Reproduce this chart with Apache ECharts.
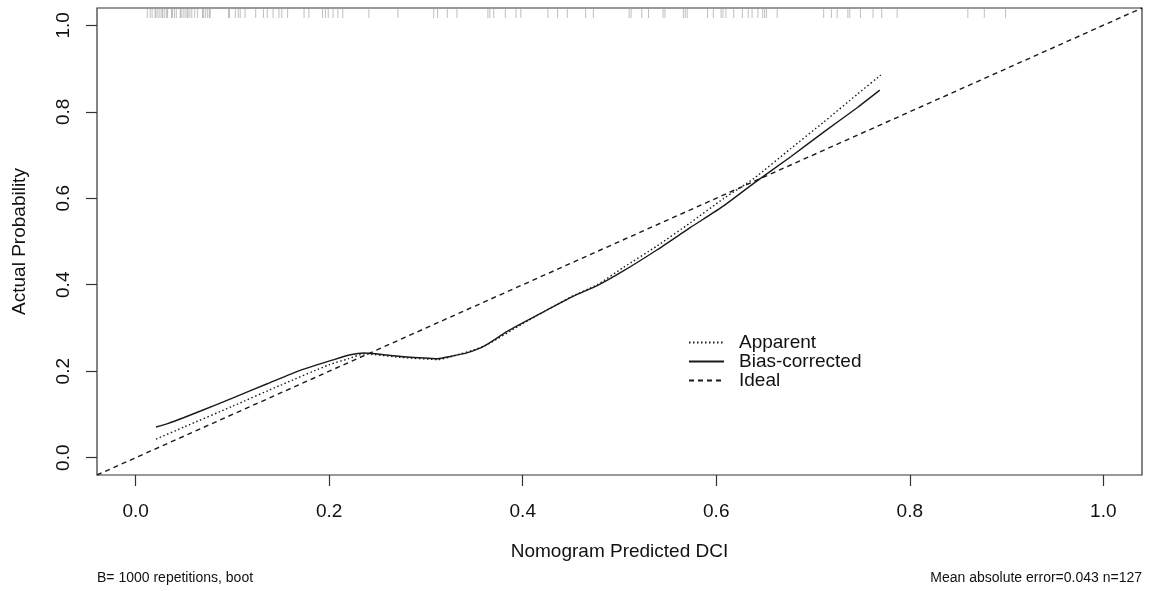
<!DOCTYPE html>
<html>
<head>
<meta charset="utf-8">
<script src="https://cdn.jsdelivr.net/npm/echarts@6/dist/echarts.min.js"></script>
<style>
html,body{margin:0;padding:0;background:#fff;}
#chart{width:1156px;height:591px;}
</style>
</head>
<body>
<div id="chart"></div>
<script>
// ---- data ----
var xTicks = [0, 0.2, 0.4, 0.6, 0.8, 1.0];
var yTicks = [0, 0.2, 0.4, 0.6, 0.8, 1.0];

var apparentX = [0.021, 0.05, 0.10, 0.15, 0.20, 0.22, 0.236, 0.274, 0.312, 0.325, 0.36, 0.40, 0.45, 0.477, 0.504, 0.539, 0.573, 0.608, 0.639, 0.677, 0.711, 0.746, 0.770];
var apparentY = [0.043, 0.071, 0.119, 0.168, 0.215, 0.229, 0.240, 0.232, 0.227, 0.233, 0.258, 0.310, 0.372, 0.400, 0.440, 0.490, 0.543, 0.600, 0.646, 0.715, 0.776, 0.841, 0.885];

var biasX = [0.021, 0.033, 0.05, 0.067, 0.10, 0.136, 0.17, 0.205, 0.222, 0.236, 0.274, 0.312, 0.325, 0.343, 0.36, 0.384, 0.418, 0.453, 0.477, 0.504, 0.539, 0.573, 0.608, 0.639, 0.677, 0.711, 0.746, 0.769];
var biasY = [0.071, 0.079, 0.093, 0.108, 0.138, 0.171, 0.202, 0.227, 0.238, 0.242, 0.234, 0.229, 0.234, 0.243, 0.258, 0.292, 0.333, 0.374, 0.398, 0.432, 0.481, 0.532, 0.583, 0.635, 0.696, 0.753, 0.810, 0.850];

var idealX = [-0.04, 1.04];
var idealY = [-0.04, 1.04];

var rugValues = [0.012, 0.015, 0.017, 0.020, 0.021, 0.023, 0.025, 0.027, 0.028, 0.030, 0.032, 0.033, 0.037, 0.038, 0.040, 0.042, 0.046, 0.047, 0.049, 0.051, 0.053, 0.054, 0.056, 0.058, 0.061, 0.064, 0.069, 0.070, 0.072, 0.074, 0.076, 0.077, 0.096, 0.097, 0.103, 0.106, 0.108, 0.113, 0.124,
  0.132, 0.136, 0.142, 0.148, 0.151, 0.157, 0.174, 0.179, 0.193, 0.196, 0.199, 0.204, 0.209, 0.214, 0.241, 0.271, 0.308, 0.312, 0.322, 0.332, 0.364, 0.366, 0.370, 0.382,
  0.393, 0.398, 0.426, 0.436, 0.446, 0.465, 0.473, 0.510, 0.512, 0.523, 0.530, 0.545, 0.547, 0.566, 0.568, 0.570, 0.591, 0.597, 0.605, 0.607, 0.610, 0.618, 0.627, 0.633, 0.637, 0.643, 0.648, 0.650, 0.652, 0.663, 0.711, 0.719, 0.725, 0.736, 0.738, 0.749, 0.762, 0.771, 0.787, 0.860, 0.877, 0.899];

var xLabel = 'Nomogram Predicted DCI';
var yLabel = 'Actual Probability';
var footLeft = 'B= 1000 repetitions, boot';
var footRight = 'Mean absolute error=0.043 n=127';
// --------------------------------------

function zip(a, b) { return a.map(function (v, i) { return [v, b[i]]; }); }

var FONT = '"Liberation Sans", Arial, Helvetica, sans-serif';
var chart = echarts.init(document.getElementById('chart'), null, {renderer: 'canvas'});

var option = {
  animation: false,
  backgroundColor: '#fff',
  textStyle: {fontFamily: FONT},
  grid: {left: 97, right: 14, top: 8, bottom: 116, show: true, borderColor: '#333', borderWidth: 1.2, backgroundColor: 'transparent'},
  xAxis: {
    type: 'value', min: -0.04, max: 1.04,
    name: xLabel, nameLocation: 'middle', nameGap: 67,
    nameTextStyle: {fontSize: 19, color: '#111', fontFamily: FONT},
    axisLine: {show: false, onZero: false},
    splitLine: {show: false},
    axisTick: {show: true, inside: false, length: 11, lineStyle: {color: '#333', width: 1.2}, customValues: xTicks},
    axisLabel: {show: true, margin: 27, fontSize: 19, color: '#111', fontFamily: FONT, customValues: xTicks,
      formatter: function (v) { return v.toFixed(1); }}
  },
  yAxis: {
    type: 'value', min: -0.04, max: 1.04,
    name: yLabel, nameLocation: 'middle', nameGap: 68,
    nameTextStyle: {fontSize: 19, color: '#111', fontFamily: FONT},
    axisLine: {show: false, onZero: false},
    splitLine: {show: false},
    axisTick: {show: true, inside: false, length: 11, lineStyle: {color: '#333', width: 1.2}, customValues: yTicks},
    axisLabel: {show: true, margin: 24, rotate: 90, fontSize: 19, color: '#111', fontFamily: FONT, customValues: yTicks,
      formatter: function (v) { return v.toFixed(1); }}
  },
  legend: {
    show: true, orient: 'vertical', left: 683, top: 328,
    itemWidth: 35, itemHeight: 12, itemGap: 0,
    itemStyle: {opacity: 0},
    textStyle: {fontSize: 19, color: '#111', fontFamily: FONT, padding: [0, 0, 0, 10]},
    data: ['Apparent', 'Bias-corrected', 'Ideal']
  },
  series: [
    {
      name: 'Rug', type: 'custom', silent: true, z: 1,
      data: rugValues.map(function (v) { return [v]; }),
      renderItem: function (params, api) {
        var p = api.coord([api.value(0), 1.04]);
        return {type: 'line', shape: {x1: p[0], y1: p[1] + 1, x2: p[0], y2: p[1] + 10},
          style: {stroke: 'rgba(0,0,0,0.25)', lineWidth: 1}};
      }
    },
    {
      name: 'Apparent', type: 'line', data: zip(apparentX, apparentY), symbol: 'none', smooth: 0.2,
      lineStyle: {color: '#1a1a1a', width: 1.4, type: [1.5, 2.5]}, itemStyle: {color: '#1a1a1a'}
    },
    {
      name: 'Bias-corrected', type: 'line', data: zip(biasX, biasY), symbol: 'none', smooth: 0.2,
      lineStyle: {color: '#1a1a1a', width: 1.4, type: 'solid'}, itemStyle: {color: '#1a1a1a'}
    },
    {
      name: 'Ideal', type: 'line', data: zip(idealX, idealY), symbol: 'none',
      lineStyle: {color: '#1a1a1a', width: 1.4, type: [5, 4]}, itemStyle: {color: '#1a1a1a'}
    }
  ],
  graphic: [
    {type: 'text', left: 97, top: 571, style: {text: footLeft, font: '14px ' + FONT, fill: '#111'}},
    {type: 'text', right: 14, top: 571, style: {text: footRight, font: '14px ' + FONT, fill: '#111'}}
  ]
};
chart.setOption(option);
</script>
</body>
</html>
